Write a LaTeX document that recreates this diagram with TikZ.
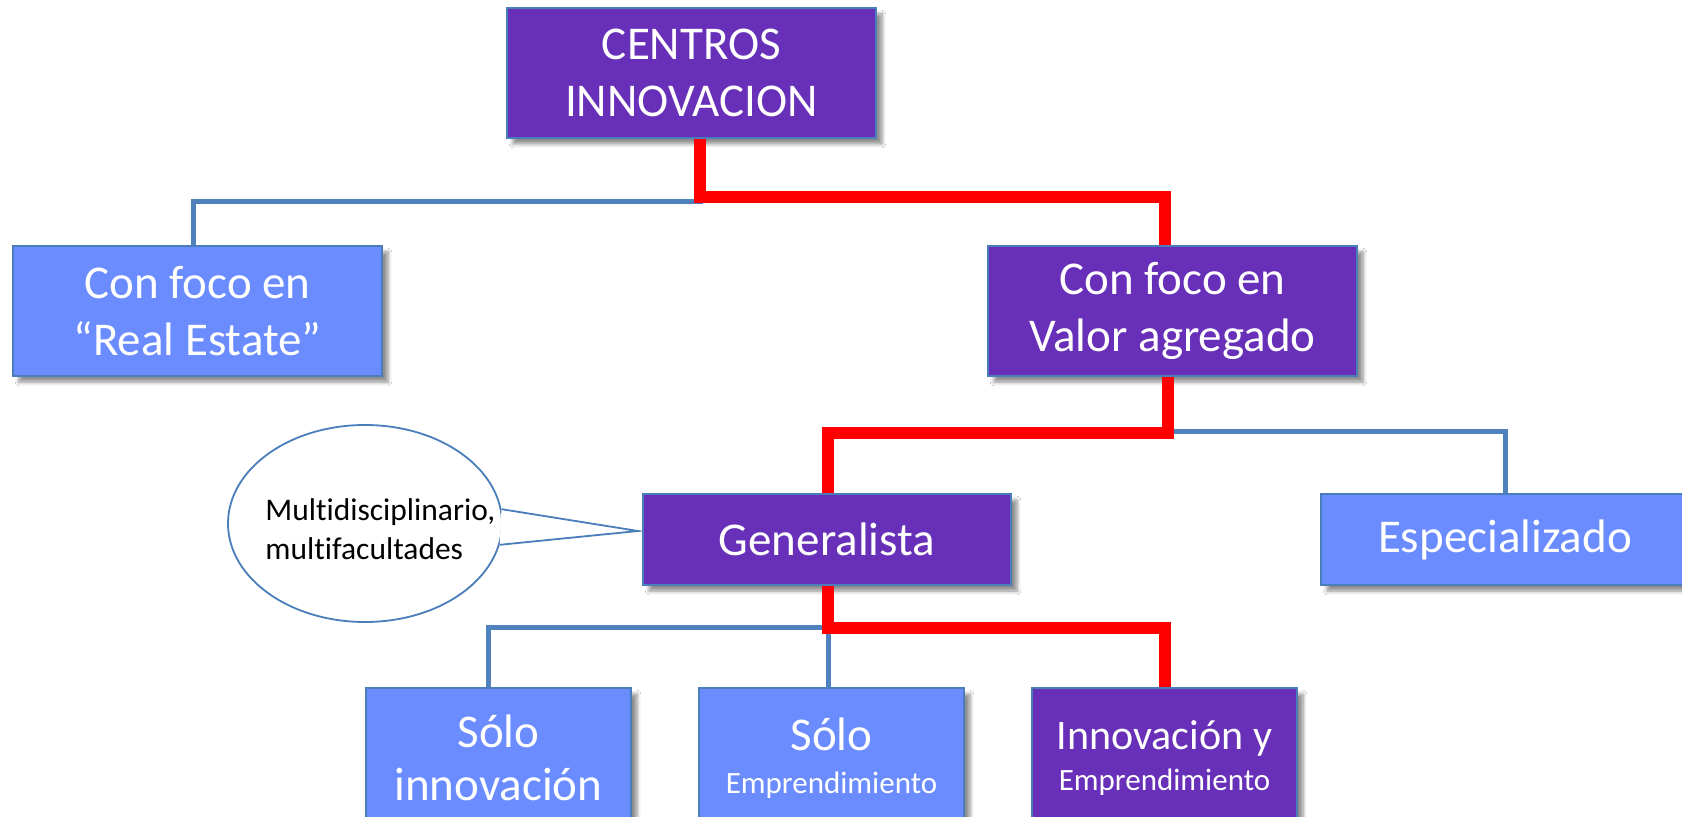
\documentclass[tikz,border=0pt]{standalone}
\usepackage{fontspec}
\setmainfont{Carlito}[Ligatures=NoCommon]
\usetikzlibrary{shapes.geometric,shadows.blur}
\definecolor{boxpurple}{RGB}{104,48,184}
\definecolor{boxblue}{RGB}{107,140,255}
\definecolor{edgeblue}{RGB}{74,126,187}
\definecolor{linkblue}{RGB}{79,129,189}
\definecolor{linkred}{RGB}{255,0,0}
\tikzset{
  box/.style={draw=edgeblue, line width=1pt, text=white, align=center, inner sep=0pt,
    blur shadow={shadow xshift=3pt, shadow yshift=-3pt, shadow blur steps=6, shadow opacity=45}},
  pbox/.style={box, fill=boxpurple},
  bbox/.style={box, fill=boxblue},
  bigtext/.style={font=\fontsize{23.5}{28.5}\selectfont},
  widebox/.style={minimum width=184.5pt, minimum height=65pt},
  midbox/.style={minimum width=184pt, minimum height=45.5pt},
  lowbox/.style={minimum width=132.5pt, minimum height=70pt},
  bluelink/.style={draw=linkblue, line width=2.5pt},
  redlink/.style={draw=linkred, line width=5.75pt},
  calloutline/.style={draw=edgeblue, line width=0.9pt}
}
\newcommand{\smalltxt}[1]{{\fontsize{15.5}{19}\selectfont #1}}
\begin{document}
\begin{tikzpicture}[x=0.5pt, y=-0.5pt]
\useasboundingbox (0,0) rectangle (1682,817);
\clip (0,0) rectangle (1682,817);
\fill[white] (0,0) rectangle (1682,817);

% nodes
\node[pbox, widebox, bigtext] (root) at (691.5,73) {\rule{0pt}{0pt}CENTROS\\INNOVACION};
\node[bbox, widebox, bigtext] (re) at (197.5,311) {Con foco en\\“Real Estate”};
\node[pbox, widebox, bigtext] (va) at (1172.5,311) {Con foco en\\Valor agregado};
\node[pbox, midbox, bigtext] (ge) at (827,539.5) {Generalista};
\node[bbox, midbox, bigtext] (es) at (1505,539.5) {Especializado};
\node[bbox, lowbox, bigtext] (so1) at (498.5,758) {Sólo\\[-2pt]innovación};
\node[bbox, lowbox, bigtext] (so2) at (831.5,758) {Sólo\\[-7pt]\smalltxt{Emprendimiento}};
\node[pbox, lowbox, font=\fontsize{21}{25.5}\selectfont] (iy) at (1164.5,758) {Innovación y\\[-5pt]\smalltxt{Emprendimiento}};

% callout
\node[ellipse, calloutline, fill=white, minimum width=137pt, minimum height=98.5pt, inner sep=0pt] (bubble) at (365,523.5) {};
\coordinate (tip) at (638,531);
\fill[white] (bubble.6.5) -- (tip) -- (bubble.-9.5) -- cycle;
\draw[calloutline] (bubble.6.5) -- (tip) -- (bubble.-9.5);
\node[anchor=west, inner sep=0pt, align=left, font=\fontsize{15.75}{19.5}\selectfont] (note) at (265,529.5) {Multidisciplinario,\\multifacultades};

% junction coordinates
\coordinate (r1a) at (700,197);
\coordinate (r1b) at (1165,197);
\coordinate (b1a) at (700,202);
\coordinate (b1b) at (193,202);
\coordinate (r2a) at (1168,433);
\coordinate (r2b) at (828,433);
\coordinate (b2b) at (1505,432);
\coordinate (r3a) at (828,628);
\coordinate (r3b) at (1165,628);
\coordinate (b3b) at (488,628);

% blue connectors
\draw[bluelink] (root.south -| b1a) -- (b1a) -- (b1b) -- (re.north -| b1b);
\draw[bluelink] (va.south -| r2a) -- (r2a |- b2b) -- (b2b) -- (es.north -| b2b);
\draw[bluelink] (ge.south -| r3a) -- (r3a) -- (b3b) -- (so1.north -| b3b);
\draw[bluelink] (r3a) -- (so2.north -| r3a);

% red connectors
\draw[redlink] (root.south -| r1a) -- (r1a) -- (r1b) -- (va.north -| r1b);
\draw[redlink] (va.south -| r2a) -- (r2a) -- (r2b) -- (ge.north -| r2b);
\draw[redlink] (ge.south -| r3a) -- (r3a) -- (r3b) -- (iy.north -| r3b);
\end{tikzpicture}
\end{document}
